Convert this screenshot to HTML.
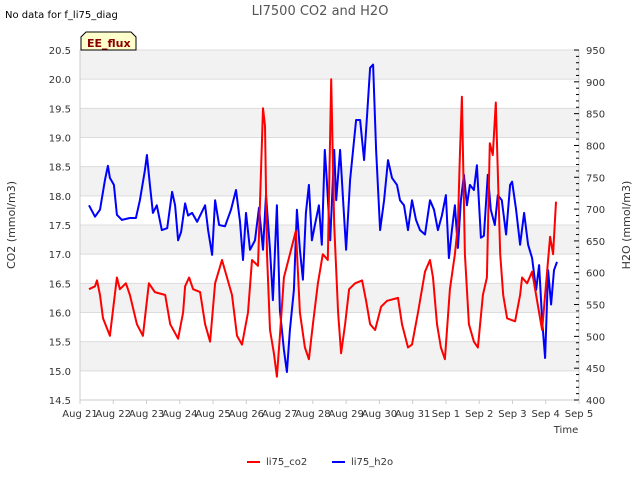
<!DOCTYPE html>
<html><head><meta charset="utf-8"><style>
body{margin:0;background:#fff;font-family:"Liberation Sans","DejaVu Sans",sans-serif}
svg text{font-family:"DejaVu Sans","Liberation Sans",sans-serif}
</style></head><body>
<svg id="c" width="640" height="480" xmlns="http://www.w3.org/2000/svg">
<text x="5" y="18" font-size="10" fill="#000">No data for f_li75_diag</text>
<text x="320" y="15" font-size="13" fill="#555" text-anchor="middle">LI7500 CO2 and H2O</text>
<g id="bands"></g><g id="grid"></g><g id="axes"></g>
<g id="series"></g>
<g>
<path d="M81,50 L81,37 L86,32 L131,32 L136,37 L136,50 Z" fill="#ffffcc" stroke="#000" stroke-width="1"/>
<text x="87" y="47" font-size="11" font-weight="bold" fill="#8b0000">EE_flux</text></g>
<text x="15" y="225" font-size="11" fill="#333" text-anchor="middle" transform="rotate(-90 15 225)">CO2 (mmol/m3)</text>
<text x="630" y="225" font-size="11" fill="#333" text-anchor="middle" transform="rotate(-90 630 225)">H2O (mmol/m3)</text>
<text x="566" y="433" font-size="10" fill="#333" text-anchor="middle">Time</text>
<g>
<g><line x1="247" y1="462" x2="260" y2="462" stroke="#f00" stroke-width="2"/><text x="266" y="465" font-size="10" fill="#333">li75_co2</text></g>
<g><line x1="332" y1="462" x2="345" y2="462" stroke="#00f" stroke-width="2"/><text x="351" y="465" font-size="10" fill="#333">li75_h2o</text></g>
</g>
</svg>
<script>
const xTickLabels=["Aug 21","Aug 22","Aug 23","Aug 24","Aug 25","Aug 26","Aug 27","Aug 28","Aug 29","Aug 30","Aug 31","Sep 1","Sep 2","Sep 3","Sep 4","Sep 5"];
const leftTicks=[14.5,15.0,15.5,16.0,16.5,17.0,17.5,18.0,18.5,19.0,19.5,20.0,20.5];
const rightTicks=[400,450,500,550,600,650,700,750,800,850,900,950];
const co2Days=[0.27,0.45,0.51,0.60,0.69,0.90,1.11,1.20,1.38,1.50,1.71,1.89,2.07,2.25,2.56,2.71,2.95,3.10,3.16,3.28,3.40,3.61,3.76,3.91,4.06,4.27,4.42,4.57,4.72,4.87,5.05,5.17,5.35,5.50,5.56,5.62,5.71,5.83,5.92,6.01,6.13,6.31,6.49,6.61,6.76,6.88,7.00,7.15,7.30,7.45,7.55,7.64,7.76,7.85,7.97,8.09,8.27,8.48,8.60,8.72,8.87,9.05,9.23,9.56,9.68,9.86,9.98,10.16,10.37,10.52,10.61,10.73,10.85,10.97,11.12,11.27,11.36,11.42,11.48,11.57,11.69,11.84,11.96,12.11,12.23,12.32,12.41,12.50,12.63,12.72,12.84,13.08,13.23,13.29,13.44,13.59,13.71,13.83,13.89,14.01,14.13,14.22,14.31];
const co2Vals=[16.4,16.45,16.55,16.3,15.9,15.6,16.6,16.4,16.5,16.3,15.8,15.6,16.5,16.35,16.3,15.8,15.55,16.0,16.45,16.6,16.4,16.35,15.8,15.5,16.5,16.9,16.6,16.3,15.6,15.45,16.0,16.9,16.8,19.5,19.2,17.0,15.7,15.3,14.9,15.6,16.6,17.0,17.4,16.0,15.4,15.2,15.8,16.5,17.0,16.9,20.0,17.5,16.0,15.3,15.8,16.4,16.5,16.55,16.2,15.8,15.7,16.1,16.2,16.25,15.8,15.4,15.45,16.0,16.7,16.9,16.6,15.8,15.4,15.2,16.4,17.0,17.5,18.7,19.7,17.0,15.8,15.5,15.4,16.3,16.6,18.9,18.7,19.6,17.0,16.3,15.9,15.85,16.3,16.6,16.5,16.7,16.3,15.9,15.7,16.5,17.3,17.0,17.9];
const h2oDays=[0.27,0.45,0.60,0.75,0.84,0.90,1.02,1.11,1.26,1.50,1.68,1.80,1.95,2.01,2.10,2.19,2.31,2.46,2.62,2.77,2.86,2.95,3.04,3.16,3.25,3.37,3.52,3.76,3.85,3.97,4.06,4.18,4.36,4.54,4.69,4.81,4.90,4.99,5.11,5.26,5.38,5.50,5.59,5.71,5.80,5.92,6.01,6.13,6.22,6.31,6.43,6.52,6.61,6.70,6.79,6.88,6.97,7.06,7.18,7.27,7.36,7.42,7.52,7.64,7.70,7.82,7.91,8.00,8.12,8.21,8.30,8.42,8.54,8.63,8.72,8.81,8.90,9.02,9.14,9.26,9.38,9.53,9.62,9.74,9.86,9.98,10.10,10.22,10.37,10.52,10.64,10.76,10.88,11.00,11.09,11.18,11.27,11.36,11.45,11.54,11.63,11.72,11.84,11.93,12.05,12.14,12.26,12.35,12.47,12.56,12.68,12.81,12.93,12.99,13.11,13.23,13.35,13.47,13.59,13.71,13.80,13.89,13.98,14.07,14.16,14.25,14.34];
const h2oVals=[706,688,699,746,768,749,738,691,683,686,686,714,761,785,738,694,706,667,670,727,706,651,664,709,690,694,680,706,667,628,714,675,673,699,730,680,620,694,636,651,702,636,722,636,557,706,541,479,444,510,573,699,636,589,694,738,651,675,706,644,793,746,651,793,714,793,714,636,746,793,840,840,777,848,922,927,793,667,714,777,749,738,714,706,667,714,683,667,660,714,699,667,690,722,623,667,706,639,714,754,706,738,730,769,655,658,754,699,675,722,714,660,738,743,699,644,694,644,623,573,612,526,466,604,550,604,617];
const X0=80,X1=579,Y0=400,Y1=50,NS="http://www.w3.org/2000/svg";
const xs=d=>X0+d*(X1-X0)/15;
const yl=v=>Y0-(v-14.5)*(Y0-Y1)/6;
const yr=v=>Y0-(v-400)*(Y0-Y1)/550;
function mk(t,a,p){const e=document.createElementNS(NS,t);for(const k in a)e.setAttribute(k,a[k]);document.getElementById(p).appendChild(e);return e;}
for(let i=0;i<leftTicks.length-1;i++){const v=leftTicks[i];
 if(Math.round(v*2)%2===0&&v<20.5){const r=mk('rect',{x:X0,y:yl(v+0.5),width:X1-X0,height:yl(v)-yl(v+0.5),fill:'#f2f2f2'},'bands');
 
 }}
leftTicks.forEach(v=>{const l=mk('line',{x1:X0,x2:X1,y1:yl(v),y2:yl(v),stroke:'#dcdcdc','stroke-width':1},'grid');
 
 
 const t=mk('text',{x:X0-9,y:yl(v)+4,'font-size':10,fill:'#333','text-anchor':'end'},'axes');t.textContent=v.toFixed(1);
 
 });
mk('line',{x1:X0,x2:X0,y1:Y1,y2:Y0,stroke:'#ccc'},'axes');
mk('line',{x1:X0,x2:X1,y1:Y0,y2:Y0,stroke:'#ccc'},'axes');
mk('line',{x1:X1,x2:X1,y1:Y1,y2:Y0,stroke:'#ccc'},'axes');
for(let v=400;v<=950;v+=10){mk('line',{x1:X1,x2:X1-(v%50===0?5:3),y1:yr(v),y2:yr(v),stroke:'#000'},'axes');}
rightTicks.forEach(v=>{const t=mk('text',{x:X1+7,y:yr(v)+4,'font-size':10,fill:'#333'},'axes');t.textContent=v;
 
 });
xTickLabels.forEach((s,i)=>{mk('line',{x1:xs(i),x2:xs(i),y1:Y0,y2:Y0+4,stroke:'#ccc'},'axes');
 const t=mk('text',{x:xs(i),y:Y0+17,'font-size':10,fill:'#333','text-anchor':'middle'},'axes');t.textContent=s;
 
 });
function line(days,vals,fy,col,name){const p=mk('polyline',{points:days.map((d,i)=>xs(d).toFixed(1)+','+fy(vals[i]).toFixed(1)).join(' '),fill:'none',stroke:col,'stroke-width':2,'stroke-linejoin':'round'},'series');
 
 }
line(h2oDays,h2oVals,yr,'#0000ff','h2o-line');
line(co2Days,co2Vals,yl,'#ff0000','co2-line');
</script>
</body></html>
